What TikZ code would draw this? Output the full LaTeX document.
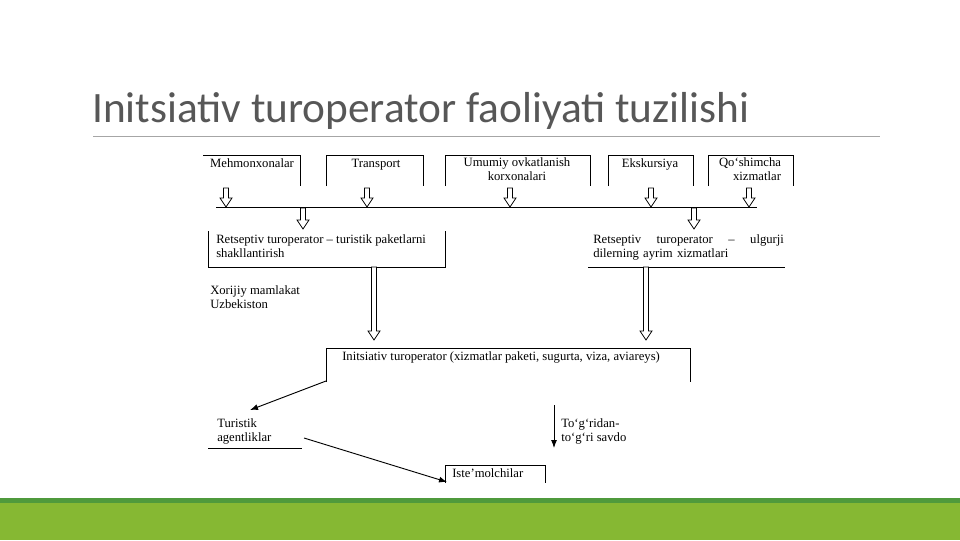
\documentclass[tikz,border=0pt]{standalone}
\usepackage{fontspec}
\setmainfont{Liberation Serif}
\newfontfamily\titlefont{Carlito}
\usetikzlibrary{arrows.meta}
\definecolor{barg}{HTML}{86B833}
\definecolor{darkg}{HTML}{4F9A3C}
\newcommand\harrow[3]{\draw[line width=0.6pt,fill=white] (#1-2.5,#2) -- (#1+2.5,#2) -- (#1+2.5,#3-9) -- (#1+6,#3-9) -- (#1,#3) -- (#1-6,#3-9) -- (#1-2.5,#3-9) -- cycle;}
\begin{document}
\begin{tikzpicture}[x=0.75pt,y=-0.75pt,
  lbl/.style={font=\fontsize{9.5}{11}\selectfont,inner sep=0pt,align=left,anchor=north west},
  ln/.style={line width=0.7pt},
  con/.style={line width=0.7pt,-{Latex[length=6pt,width=4.5pt]}}]
\useasboundingbox (0,0) rectangle (960,540);
\fill[white] (0,0) rectangle (960,540);
\node[anchor=base west,inner sep=0pt,text=black!66,font=\titlefont\fontsize{32.5}{36}\selectfont] (title) at (92,122) {Initsiativ turoperator faoliyati tuzilishi};
\draw[black!35,line width=0.75pt] (93,136.5) -- (880,136.5);
\fill[barg] (0,498) rectangle (960,540);
\fill[darkg] (0,498) rectangle (960,503);
% top boxes
\draw[ln] (203,155) -- (300,155) -- (300,186);
\draw[ln] (326,186) -- (326,155) -- (423,155) -- (423,186);
\draw[ln] (445,186) -- (445,155) -- (590,155) -- (590,186);
\draw[ln] (608,186) -- (608,155) -- (693,155) -- (693,186);
\draw[ln] (708,186) -- (708,155) -- (793,155) -- (793,186);
\node[lbl,anchor=base] (b1) at (252,167) {Mehmonxonalar};
\node[lbl,anchor=base] (b2) at (376,167) {Transport};
\node[lbl,anchor=north,align=center] (b3) at (517,157) {Umumiy ovkatlanish\\korxonalari};
\node[lbl,anchor=base] (b4) at (650,167) {Ekskursiya};
\node[lbl,anchor=north,align=right] (b5) at (750,157) {Qo`shimcha\\xizmatlar};
\foreach \x in {226,367,510,651,749} {\harrow{\x}{188}{207}}
\draw[ln] (216,207.5) -- (757,207.5);
\harrow{303}{208}{229}
\harrow{694}{208}{229}
% reseptive boxes
\draw[ln] (208,231) -- (208,267) -- (445,267) -- (445,231);
\node[lbl] (r1) at (216,234) {Retseptiv turoperator – turistik paketlarni\\shakllantirish};
\draw[ln] (588,267) -- (785,267);
\node[lbl,text width=143pt] (r2) at (593,234) {Retseptiv\hfill turoperator\hfill –\hfill ulgurji\\dilerning ayrim xizmatlari};
\harrow{374}{267}{340}
\harrow{646}{267}{340}
\node[lbl] (x) at (210,285) {Xorijiy mamlakat\\Uzbekiston};
% initsiativ
\draw[ln] (326,382) -- (326,348) -- (690,348) -- (690,382);
\node[lbl,anchor=base west] (ini) at (342,360) {Initsiativ turoperator (xizmatlar paketi, sugurta, viza, aviareys)};
\coordinate (a1) at (326,381);
\coordinate (a2) at (250,410);
\draw[con] (a1) -- (a2);
\node[lbl] (ta) at (217,418) {Turistik\\agentliklar};
\draw[ln] (208,448) -- (302,448);
\coordinate (a3) at (304,438);
\coordinate (a4) at (447,482);
\draw[con] (a3) -- (a4);
\draw[ln] (445,483) -- (445,465) -- (545,465) -- (545,483);
\node[lbl,anchor=base west] (ist) at (452,477) {Iste’molchilar};
\coordinate (a5) at (554,405);
\coordinate (a6) at (554,448);
\draw[con] (a5) -- (a6);
\node[lbl] (ts) at (561,418) {To`g`ridan-\\to`g`ri savdo};
\end{tikzpicture}
\end{document}
